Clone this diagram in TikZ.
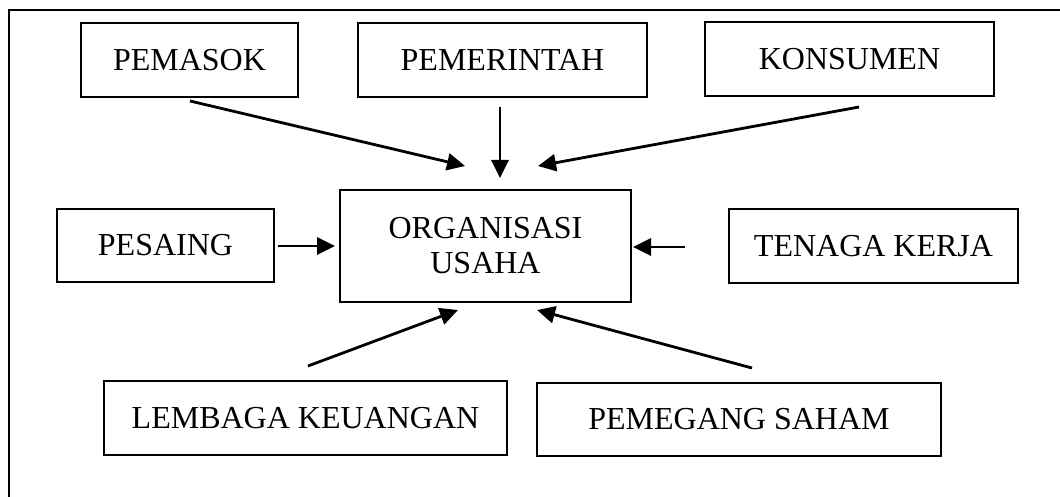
\documentclass[tikz,border=0pt]{standalone}
\usepackage{fontspec}
\setmainfont{Liberation Serif}
\usetikzlibrary{arrows.meta}
\begin{document}
\begin{tikzpicture}[x=1pt,y=-1pt,
  box/.style={draw, line width=1.7pt, inner sep=0pt, align=center,
    font=\fontsize{32}{35}\selectfont},
  arr/.style={line width=2.8pt, -{Triangle[length=18pt,width=17pt]}}]
\useasboundingbox (0,0) rectangle (1060,497);
\draw[line width=2.2pt] (9,497) -- (9,10) -- (1060,10);

\node[box, minimum width=217pt, minimum height=74pt] (pemasok) at (189.5,60) {PEMASOK};
\node[box, minimum width=289pt, minimum height=74pt] (pemerintah) at (502.5,60) {PEMERINTAH};
\node[box, minimum width=289pt, minimum height=74pt] (konsumen) at (849.5,59) {KONSUMEN};
\node[box, minimum width=291pt, minimum height=112pt] (org) at (485.5,246) {ORGANISASI\\USAHA};
\node[box, minimum width=217pt, minimum height=73pt] (pesaing) at (165.5,245.5) {PESAING};
\node[box, minimum width=289pt, minimum height=74pt] (tenaga) at (873.5,246) {TENAGA KERJA};
\node[box, minimum width=403pt, minimum height=74pt] (lembaga) at (305.5,418) {LEMBAGA KEUANGAN};
\node[box, minimum width=404pt, minimum height=73pt] (pemegang) at (739,419.5) {PEMEGANG SAHAM};

\coordinate (s1) at (190,101);  \coordinate (t1) at (465,166);
\coordinate (s2) at (500,107);  \coordinate (t2) at (500,178);
\coordinate (s3) at (859,107);  \coordinate (t3) at (538,166);
\coordinate (s4) at (278,246);  \coordinate (t4) at (335,246);
\coordinate (s5) at (685,247);  \coordinate (t5) at (633,247);
\coordinate (s6) at (308,366);  \coordinate (t6) at (458,310);
\coordinate (s7) at (752,368);  \coordinate (t7) at (537,310);

\draw[arr] (s1) -- (t1);
\draw[arr] (s2) -- (t2);
\draw[arr] (s3) -- (t3);
\draw[arr] (s4) -- (t4);
\draw[arr] (s5) -- (t5);
\draw[arr] (s6) -- (t6);
\draw[arr] (s7) -- (t7);
\end{tikzpicture}
\end{document}
